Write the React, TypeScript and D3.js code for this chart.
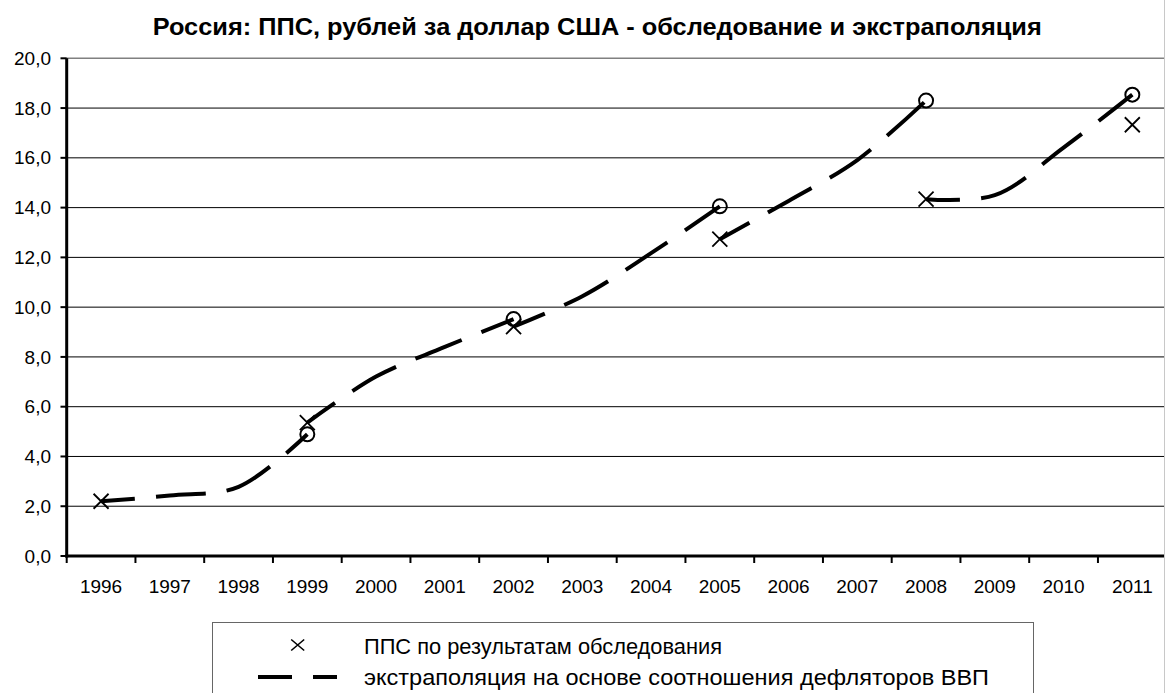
import React from "react";
import * as d3 from "d3";

const years = ["1996","1997","1998","1999","2000","2001","2002","2003","2004","2005","2006","2007","2008","2009","2010","2011"];
const yTicks = [0,2,4,6,8,10,12,14,16,18,20];

const surveyYears = ["1996","1999","2002","2005","2008","2011"];
const surveyValues = [2.2, 5.36, 9.22, 12.73, 14.34, 17.33];

const extrapYears1996 = ["1996","1997","1998","1999"];
const extrapValues1996 = [2.2, 2.43, 2.78, 4.89];
const extrapYears1999 = ["1999","2000","2001","2002"];
const extrapValues1999 = [5.36, 7.21, 8.4, 9.52];
const extrapYears2002 = ["2002","2003","2004","2005"];
const extrapValues2002 = [9.22, 10.44, 12.17, 14.05];
const extrapYears2005 = ["2005","2006","2007","2008"];
const extrapValues2005 = [12.73, 14.27, 15.91, 18.3];
const extrapYears2008 = ["2008","2009","2010","2011"];
const extrapValues2008 = [14.34, 14.5, 16.41, 18.54];

const title = "Россия: ППС, рублей за доллар США - обследование и экстраполяция";
const legendSurvey = "ППС по результатам обследования";
const legendExtrap = "экстраполяция на основе соотношения дефляторов ВВП";

const W = 1165, H = 693;
const FONT = "'Liberation Sans', Arial, sans-serif";

export default function App() {
  const x = d3.scaleBand<string>().domain(years).range([66.7, 1166.7]).padding(0);
  const y = d3.scaleLinear().domain([0, 20]).range([556, 58.3]);
  const cx = (yr: string) => (x(yr) as number) + x.bandwidth() / 2;

  const segments = [
    { years: extrapYears1996, values: extrapValues1996 },
    { years: extrapYears1999, values: extrapValues1999 },
    { years: extrapYears2002, values: extrapValues2002 },
    { years: extrapYears2005, values: extrapValues2005 },
    { years: extrapYears2008, values: extrapValues2008 },
  ];

  const line = d3
    .line<[string, number]>()
    .x((d) => cx(d[0]))
    .y((d) => y(d[1]))
    .curve(d3.curveCatmullRom.alpha(0.5));

  const xMark = (px: number, py: number, hw: number, hh: number) =>
    `M${px - hw},${py - hh}L${px + hw},${py + hh}M${px - hw},${py + hh}L${px + hw},${py - hh}`;

  const boundaries = years.map((yr) => x(yr) as number).concat([x.range()[1]]);

  return (
    <svg
      width={W}
      height={H}
      style={{ position: "absolute", left: 0, top: 0, background: "#fff" }}
      fontFamily={FONT}
    >
      <rect x={0} y={0} width={W} height={H} fill="#fff" />
      {/* title */}
      <text
        x={152.7}
        y={35}
        fontSize={24}
        fontWeight="bold"
        fill="#000"
        textLength={889}
        lengthAdjust="spacingAndGlyphs"
      >
        {title}
      </text>

      {/* gridlines */}
      {yTicks.filter((t) => t > 0).map((t) => (
        <line key={"g" + t} x1={66.7} x2={1166.7} y1={y(t)} y2={y(t)} stroke={t === 20 ? "#808080" : "#000"} strokeWidth={t === 20 ? 1.5 : 1} />
      ))}

      {/* y axis */}
      <line x1={66.7} x2={66.7} y1={y(20)} y2={y(0) + 1.5} stroke="#000" strokeWidth={3} />
      {yTicks.map((t) => (
        <g key={"yt" + t}>
          <line x1={60.5} x2={66.7} y1={y(t)} y2={y(t)} stroke="#000" strokeWidth={2} />
          <text x={51} y={y(t)} dy="0.35em" textAnchor="end" fontSize={19} fill="#000">
            {d3.format(".1f")(t).replace(".", ",")}
          </text>
        </g>
      ))}

      {/* x axis */}
      <line x1={65.2} x2={1166.7} y1={y(0)} y2={y(0)} stroke="#000" strokeWidth={3} />
      {boundaries.map((b, i) => (
        <line key={"xt" + i} x1={b} x2={b} y1={y(0)} y2={y(0) + 7} stroke="#000" strokeWidth={2} />
      ))}
      {years.map((yr) => (
        <text key={"xl" + yr} x={cx(yr)} y={593} textAnchor="middle" fontSize={19} fill="#000">
          {yr}
        </text>
      ))}

      {/* extrapolation lines */}
      {segments.map((s, i) => (
        <path
          key={"seg" + i}
          d={line(s.years.map((yr, j) => [yr, s.values[j]] as [string, number])) || ""}
          fill="none"
          stroke="#000"
          strokeWidth={4}
          strokeDasharray="50 21"
          strokeDashoffset={16}
        />
      ))}
      {/* end circles */}
      {segments.map((s, i) => {
        const last = s.years.length - 1;
        return (
          <circle
            key={"c" + i}
            cx={cx(s.years[last])}
            cy={y(s.values[last])}
            r={7}
            fill="none"
            stroke="#000"
            strokeWidth={2}
          />
        );
      })}

      {/* survey markers */}
      {surveyYears.map((yr, i) => (
        <path
          key={"x" + yr}
          d={xMark(cx(yr), y(surveyValues[i]), 7.5, 7.5)}
          stroke="#000"
          strokeWidth={1.8}
          fill="none"
        />
      ))}

      {/* right border */}
      <line x1={1164.5} x2={1164.5} y1={0} y2={H} stroke="#c8c8c8" strokeWidth={1} />

      {/* legend */}
      <rect x={212.5} y={622.5} width={821} height={100} fill="none" stroke="#666" strokeWidth={1} />
      <path d={xMark(297.7, 645, 6.5, 5.5)} stroke="#000" strokeWidth={1.6} fill="none" />
      <text x={364} y={654} fontSize={22} fill="#000" textLength={358} lengthAdjust="spacingAndGlyphs">
        {legendSurvey}
      </text>
      <line x1={258} x2={337} y1={677} y2={677} stroke="#000" strokeWidth={4} strokeDasharray="50 21" strokeDashoffset={16} />
      <text x={364} y={685} fontSize={22} fill="#000" textLength={625} lengthAdjust="spacingAndGlyphs">
        {legendExtrap}
      </text>
    </svg>
  );
}
